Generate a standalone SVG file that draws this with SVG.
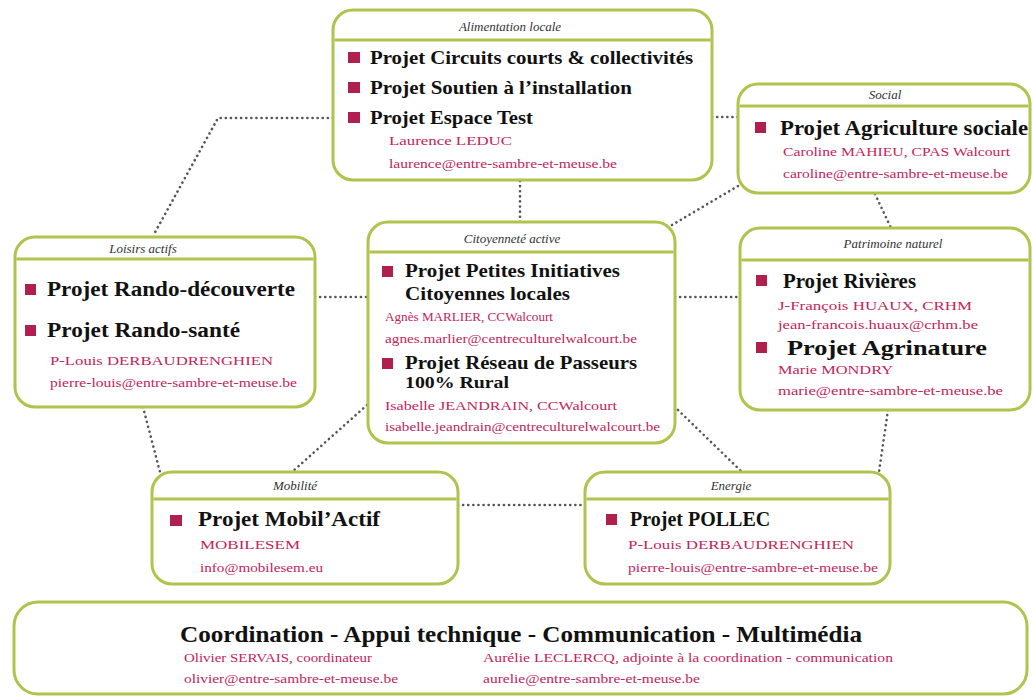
<svg xmlns="http://www.w3.org/2000/svg" width="1033" height="697" viewBox="0 0 1033 697">
<style>
.box{fill:#ffffff;stroke:#afc44c;stroke-width:3}
.hdr{stroke:#afc44c;stroke-width:3}
.ttl{font-family:"Liberation Serif",serif;font-style:italic;font-size:13px;fill:#333333;text-anchor:middle}
.prj{font-family:"Liberation Serif",serif;font-weight:bold;font-size:19px;fill:#111111}
.red{font-family:"Liberation Serif",serif;font-size:12px;fill:#c4245a}
.bul{fill:#b0204f}
.con{fill:none;stroke:#555555;stroke-width:2.6;stroke-linecap:round;stroke-dasharray:0.1 5}
.big{font-family:"Liberation Serif",serif;font-weight:bold;font-size:24px;fill:#111111}
</style>
<rect width="1033" height="697" fill="#ffffff"/>
<g id="connectors">
<polyline class="con" points="333,118 218,118 153,236"/>
<line class="con" x1="712" y1="117" x2="738" y2="117"/>
<line class="con" x1="520" y1="181" x2="520" y2="222"/>
<line class="con" x1="875" y1="194" x2="891" y2="228"/>
<line class="con" x1="672" y1="225" x2="738" y2="186"/>
<line class="con" x1="315" y1="297" x2="368" y2="297"/>
<line class="con" x1="675" y1="297" x2="740" y2="297"/>
<line class="con" x1="143" y1="407" x2="160" y2="472"/>
<line class="con" x1="367" y1="405" x2="292" y2="472"/>
<line class="con" x1="678" y1="410" x2="742" y2="472"/>
<line class="con" x1="888" y1="410" x2="879" y2="472"/>
<line class="con" x1="458" y1="505" x2="585" y2="505"/>
</g>
<g id="alimentation">
<rect class="box" x="333" y="10" width="379" height="170" rx="20"/>
<line class="hdr" x1="334.5" y1="40" x2="710.5" y2="40"/>
<text class="ttl" x="510" y="31">Alimentation locale</text>
<rect class="bul" x="348" y="52" width="12" height="11"/>
<text class="prj" x="370" y="64" textLength="323" lengthAdjust="spacingAndGlyphs">Projet Circuits courts &amp; collectivités</text>
<rect class="bul" x="348" y="82" width="12" height="11"/>
<text class="prj" x="370" y="94" textLength="262" lengthAdjust="spacingAndGlyphs">Projet Soutien à l’installation</text>
<rect class="bul" x="348" y="112" width="12" height="11"/>
<text class="prj" x="370" y="124" textLength="163" lengthAdjust="spacingAndGlyphs">Projet Espace Test</text>
<text class="red" x="389" y="145" textLength="123" lengthAdjust="spacingAndGlyphs">Laurence LEDUC</text>
<text class="red" x="389" y="168" textLength="228" lengthAdjust="spacingAndGlyphs">laurence@entre-sambre-et-meuse.be</text>
</g>
<g id="social">
<rect class="box" x="738" y="84" width="292" height="109" rx="20"/>
<line class="hdr" x1="739.5" y1="106" x2="1028.5" y2="106"/>
<text class="ttl" x="885" y="99">Social</text>
<rect class="bul" x="755" y="122" width="11" height="11"/>
<text class="prj" x="780" y="135" style="font-size:20px" textLength="248" lengthAdjust="spacingAndGlyphs">Projet Agriculture sociale</text>
<text class="red" x="783" y="156" textLength="227" lengthAdjust="spacingAndGlyphs">Caroline MAHIEU, CPAS Walcourt</text>
<text class="red" x="783" y="178" textLength="225" lengthAdjust="spacingAndGlyphs">caroline@entre-sambre-et-meuse.be</text>
</g>
<g id="patrimoine">
<rect class="box" x="740" y="228" width="290" height="182" rx="20"/>
<line class="hdr" x1="741.5" y1="260" x2="1028.5" y2="260"/>
<text class="ttl" x="893" y="248">Patrimoine naturel</text>
<rect class="bul" x="756" y="275" width="11" height="11"/>
<text class="prj" x="783" y="288" style="font-size:20px" textLength="133" lengthAdjust="spacingAndGlyphs">Projet Rivières</text>
<text class="red" x="778" y="310" textLength="194" lengthAdjust="spacingAndGlyphs">J-François HUAUX, CRHM</text>
<text class="red" x="778" y="329" textLength="200" lengthAdjust="spacingAndGlyphs">jean-francois.huaux@crhm.be</text>
<rect class="bul" x="756" y="342" width="11" height="11"/>
<text class="prj" x="787" y="355" style="font-size:20px" textLength="200" lengthAdjust="spacingAndGlyphs">Projet Agrinature</text>
<text class="red" x="778" y="374" textLength="115" lengthAdjust="spacingAndGlyphs">Marie MONDRY</text>
<text class="red" x="778" y="395" textLength="225" lengthAdjust="spacingAndGlyphs">marie@entre-sambre-et-meuse.be</text>
</g>
<g id="loisirs">
<rect class="box" x="15" y="237" width="300" height="170" rx="20"/>
<line class="hdr" x1="16.5" y1="259" x2="313.5" y2="259"/>
<text class="ttl" x="143" y="253">Loisirs actifs</text>
<rect class="bul" x="25" y="284" width="11" height="11"/>
<text class="prj" x="47" y="296" style="font-size:20px" textLength="248" lengthAdjust="spacingAndGlyphs">Projet Rando-découverte</text>
<rect class="bul" x="25" y="325" width="11" height="11"/>
<text class="prj" x="47" y="337" style="font-size:20px" textLength="193" lengthAdjust="spacingAndGlyphs">Projet Rando-santé</text>
<text class="red" x="50" y="365" textLength="223" lengthAdjust="spacingAndGlyphs">P-Louis DERBAUDRENGHIEN</text>
<text class="red" x="50" y="387" textLength="247" lengthAdjust="spacingAndGlyphs">pierre-louis@entre-sambre-et-meuse.be</text>
</g>
<g id="citoyennete">
<rect class="box" x="368" y="222" width="307" height="221" rx="20"/>
<line class="hdr" x1="369.5" y1="252" x2="673.5" y2="252"/>
<text class="ttl" x="512" y="243">Citoyenneté active</text>
<rect class="bul" x="382" y="266" width="11" height="11"/>
<text class="prj" x="405" y="277" textLength="215" lengthAdjust="spacingAndGlyphs">Projet Petites Initiatives</text>
<text class="prj" x="405" y="300" textLength="165" lengthAdjust="spacingAndGlyphs">Citoyennes locales</text>
<text class="red" x="385" y="321" textLength="168" lengthAdjust="spacingAndGlyphs">Agnès MARLIER, CCWalcourt</text>
<text class="red" x="385" y="343" textLength="252" lengthAdjust="spacingAndGlyphs">agnes.marlier@centreculturelwalcourt.be</text>
<rect class="bul" x="382" y="358" width="11" height="11"/>
<text class="prj" x="405" y="369" textLength="232" lengthAdjust="spacingAndGlyphs">Projet Réseau de Passeurs</text>
<text class="prj" x="405" y="388" style="font-size:16px" textLength="104" lengthAdjust="spacingAndGlyphs">100% Rural</text>
<text class="red" x="385" y="410" textLength="232" lengthAdjust="spacingAndGlyphs">Isabelle JEANDRAIN, CCWalcourt</text>
<text class="red" x="385" y="431" textLength="275" lengthAdjust="spacingAndGlyphs">isabelle.jeandrain@centreculturelwalcourt.be</text>
</g>
<g id="mobilite">
<rect class="box" x="152" y="472" width="306" height="112" rx="20"/>
<line class="hdr" x1="153.5" y1="499" x2="456.5" y2="499"/>
<text class="ttl" x="295" y="490">Mobilité</text>
<rect class="bul" x="170" y="515" width="12" height="11"/>
<text class="prj" x="198" y="526" style="font-size:20px" textLength="182" lengthAdjust="spacingAndGlyphs">Projet Mobil’Actif</text>
<text class="red" x="200" y="549" textLength="100" lengthAdjust="spacingAndGlyphs">MOBILESEM</text>
<text class="red" x="200" y="572" textLength="123" lengthAdjust="spacingAndGlyphs">info@mobilesem.eu</text>
</g>
<g id="energie">
<rect class="box" x="585" y="472" width="305" height="112" rx="20"/>
<line class="hdr" x1="586.5" y1="499" x2="888.5" y2="499"/>
<text class="ttl" x="731" y="490">Energie</text>
<rect class="bul" x="606" y="514" width="11" height="11"/>
<text class="prj" x="630" y="526" style="font-size:20px">Projet POLLEC</text>
<text class="red" x="628" y="549" textLength="226" lengthAdjust="spacingAndGlyphs">P-Louis DERBAUDRENGHIEN</text>
<text class="red" x="628" y="572" textLength="250" lengthAdjust="spacingAndGlyphs">pierre-louis@entre-sambre-et-meuse.be</text>
</g>
<g id="coordination">
<rect class="box" x="14" y="602" width="1013" height="92" rx="24"/>
<text class="big" x="180" y="642" textLength="682" lengthAdjust="spacingAndGlyphs">Coordination - Appui technique - Communication - Multimédia</text>
<text class="red" x="184" y="662" textLength="188" lengthAdjust="spacingAndGlyphs">Olivier SERVAIS, coordinateur</text>
<text class="red" x="184" y="683" textLength="214" lengthAdjust="spacingAndGlyphs">olivier@entre-sambre-et-meuse.be</text>
<text class="red" x="483" y="662" textLength="410" lengthAdjust="spacingAndGlyphs">Aurélie LECLERCQ, adjointe à la coordination - communication</text>
<text class="red" x="483" y="683" textLength="217" lengthAdjust="spacingAndGlyphs">aurelie@entre-sambre-et-meuse.be</text>
</g>
</svg>
